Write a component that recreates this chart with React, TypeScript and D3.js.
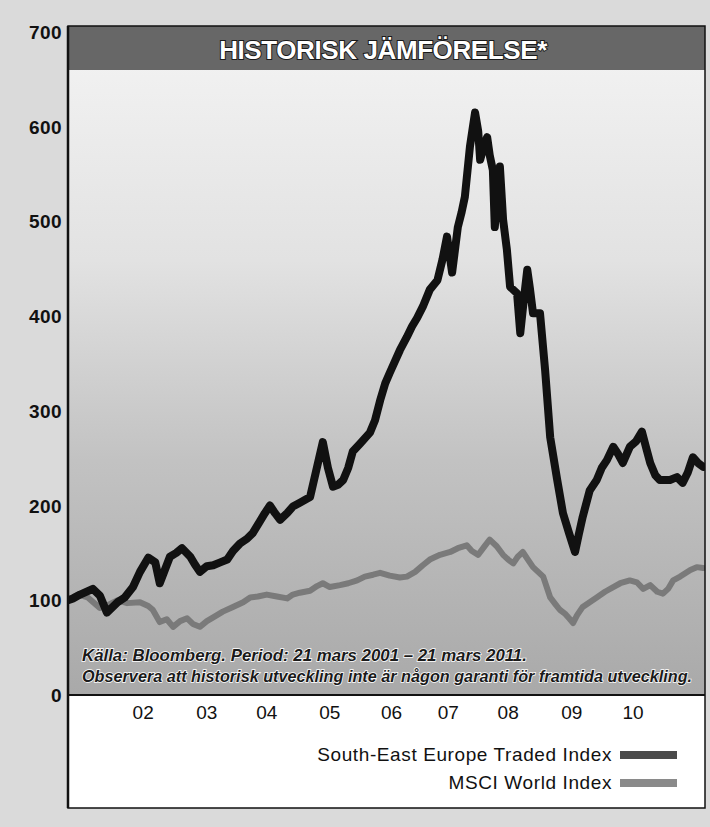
import React, { useLayoutEffect, useRef, useState } from "react";
import * as d3 from "d3";

// ---- data ----
const title = "HISTORISK JÄMFÖRELSE*";
const seriesNames = ["South-East Europe Traded Index", "MSCI World Index"];
const footnotes = [
  "Källa: Bloomberg. Period: 21 mars 2001 – 21 mars 2011.",
  "Observera att historisk utveckling inte är någon garanti för framtida utveckling.",
];
const yTicks = [0, 100, 200, 300, 400, 500, 600, 700];
const xTickLabels = ["02", "03", "04", "05", "06", "07", "08", "09", "10"];
const xTickYears = [2002.4, 2003.4, 2004.34, 2005.33, 2006.3, 2007.19, 2008.13, 2009.13, 2010.09];
const periodStart = 2001.22;
const periodEnd = 2011.22;

// South-East Europe Traded Index: [decimal year, index value]
const setx: [number, number][] = [
  [2001.22, 100], [2001.3, 102], [2001.41, 106], [2001.61, 112], [2001.72, 105],
  [2001.83, 87], [2002.0, 98], [2002.11, 103], [2002.24, 114], [2002.35, 130],
  [2002.48, 145], [2002.59, 140], [2002.66, 118], [2002.74, 132], [2002.82, 146],
  [2002.92, 150], [2003.01, 155], [2003.14, 146], [2003.21, 138], [2003.29, 130],
  [2003.4, 136], [2003.5, 137], [2003.61, 140], [2003.72, 143], [2003.81, 152],
  [2003.92, 160], [2004.03, 165], [2004.12, 171], [2004.23, 183], [2004.31, 192],
  [2004.39, 200], [2004.47, 192], [2004.55, 185], [2004.66, 192], [2004.75, 199],
  [2004.86, 203], [2005.02, 209], [2005.11, 235], [2005.22, 267], [2005.3, 240],
  [2005.38, 220], [2005.46, 222], [2005.54, 227], [2005.62, 240], [2005.69, 257],
  [2005.8, 265], [2005.96, 277], [2006.04, 290], [2006.12, 311], [2006.2, 329],
  [2006.27, 340], [2006.35, 352], [2006.43, 364], [2006.54, 378], [2006.62, 389],
  [2006.7, 398], [2006.79, 410], [2006.9, 428], [2007.02, 438], [2007.1, 460],
  [2007.17, 484], [2007.25, 446], [2007.34, 494], [2007.4, 510], [2007.45, 526],
  [2007.53, 579], [2007.61, 615], [2007.66, 595], [2007.69, 565], [2007.75, 580],
  [2007.8, 589], [2007.84, 570], [2007.89, 554], [2007.92, 494], [2008.0, 558],
  [2008.05, 502], [2008.11, 470], [2008.16, 431], [2008.27, 424], [2008.32, 382],
  [2008.38, 420], [2008.43, 449], [2008.47, 430], [2008.52, 403], [2008.63, 403],
  [2008.71, 343], [2008.79, 272], [2008.9, 227], [2008.99, 192], [2009.09, 170],
  [2009.18, 151], [2009.24, 170], [2009.3, 188], [2009.41, 216], [2009.52, 227],
  [2009.6, 240], [2009.68, 248], [2009.78, 262], [2009.85, 255], [2009.93, 245],
  [2010.04, 262], [2010.14, 268], [2010.23, 278], [2010.3, 260], [2010.36, 245],
  [2010.44, 232], [2010.51, 227], [2010.67, 227], [2010.78, 230], [2010.87, 224],
  [2010.95, 235], [2011.03, 251], [2011.11, 245], [2011.19, 241],
];

// MSCI World Index: [decimal year, index value]
const msci: [number, number][] = [
  [2001.22, 100], [2001.38, 106], [2001.53, 103], [2001.72, 92], [2001.85, 95],
  [2002.0, 100], [2002.15, 97], [2002.35, 98], [2002.48, 94], [2002.55, 90],
  [2002.66, 77], [2002.77, 80], [2002.87, 72], [2002.98, 78], [2003.09, 81],
  [2003.18, 75], [2003.29, 72], [2003.4, 78], [2003.5, 82], [2003.65, 88],
  [2003.81, 93], [2003.97, 98], [2004.08, 103], [2004.2, 104], [2004.34, 106],
  [2004.5, 104], [2004.66, 102], [2004.75, 106], [2004.86, 108], [2005.02, 110],
  [2005.13, 115], [2005.22, 118], [2005.33, 114], [2005.49, 116], [2005.62, 118],
  [2005.76, 121], [2005.88, 125], [2006.01, 127], [2006.12, 129], [2006.27, 126],
  [2006.43, 124], [2006.54, 125], [2006.67, 130], [2006.79, 137], [2006.9, 143],
  [2007.06, 148], [2007.22, 151], [2007.34, 155], [2007.48, 158], [2007.56, 152],
  [2007.66, 148], [2007.77, 158], [2007.84, 164], [2007.95, 157], [2008.05, 148],
  [2008.13, 143], [2008.21, 139], [2008.28, 146], [2008.36, 151], [2008.44, 143],
  [2008.52, 135], [2008.6, 130], [2008.68, 125], [2008.74, 113], [2008.79, 103],
  [2008.87, 96], [2008.94, 90], [2009.02, 86], [2009.1, 80], [2009.15, 76],
  [2009.21, 84], [2009.3, 93], [2009.41, 98], [2009.52, 103], [2009.65, 109],
  [2009.78, 114], [2009.89, 118], [2010.04, 121], [2010.15, 119], [2010.25, 112],
  [2010.36, 116], [2010.47, 109], [2010.56, 107], [2010.64, 112], [2010.72, 121],
  [2010.83, 125], [2010.99, 132], [2011.09, 135], [2011.19, 134],
];

const W = 710;
const H = 827;
const left = 68;
const right = 705;
const top = 26;
const bandBottom = 70;
const plotBottom = 695;
const boxBottom = 808;
const footnoteWidths = [445, 610];

export default function App() {
  const x = d3.scaleLinear().domain([periodStart, periodEnd]).range([left, right]);
  const y = d3.scaleLinear().domain([0, 700]).range([plotBottom, 32]);
  const line = d3
    .line<[number, number]>()
    .x((d) => x(d[0]))
    .y((d) => y(d[1]));

  const font = "'Liberation Sans', Arial, Helvetica, sans-serif";

  const noteRefs = useRef<(SVGTextElement | null)[]>([]);
  const [noteScales, setNoteScales] = useState<number[]>([0.75, 0.75]);
  useLayoutEffect(() => {
    const s = noteRefs.current.map((el, i) => {
      if (!el) return 0.75;
      const w = el.getComputedTextLength();
      return w > 0 ? footnoteWidths[i] / w : 0.75;
    });
    setNoteScales(s);
  }, []);

  return (
    <svg
      width={W}
      height={H}
      style={{ position: "absolute", left: 0, top: 0, display: "block" }}
      fontFamily={font}
    >
      <defs>
        <linearGradient id="plotBg" x1="0" y1="0" x2="0" y2="1">
          <stop offset="0" stopColor="#f4f4f4" />
          <stop offset="0.35" stopColor="#e2e2e2" />
          <stop offset="0.65" stopColor="#c2c2c2" />
          <stop offset="1" stopColor="#a9a9a9" />
        </linearGradient>
        <clipPath id="plotClip">
          <rect x={left} y={bandBottom} width={right - left} height={plotBottom - bandBottom} />
        </clipPath>
      </defs>

      {/* page background */}
      <rect x={0} y={0} width={W} height={H} fill="#dadada" />

      {/* plot background */}
      <rect x={left} y={top} width={right - left} height={plotBottom - top} fill="url(#plotBg)" />

      {/* title band */}
      <rect x={left} y={top} width={right - left} height={bandBottom - top} fill="#676767" />
      <text
        x={383}
        y={59}
        textAnchor="middle"
        fontSize={26}
        fontWeight="bold"
        fill="#ffffff"
        stroke="#1a1a1a"
        strokeWidth={2}
        paintOrder="stroke"
        letterSpacing={-0.4}
      >
        {title}
      </text>

      {/* series */}
      <g clipPath="url(#plotClip)">
        <path
          d={line(msci) ?? ""}
          fill="none"
          stroke="#7a7a7a"
          strokeWidth={6}
          strokeLinejoin="round"
          strokeLinecap="round"
        />
        <path
          d={line(setx) ?? ""}
          fill="none"
          stroke="#111111"
          strokeWidth={8}
          strokeLinejoin="round"
          strokeLinecap="round"
        />
      </g>

      {/* footnotes (horizontally condensed to match the narrow print face) */}
      {footnotes.map((t, i) => (
        <g key={i} transform={`translate(82, ${661 + i * 21}) scale(${noteScales[i]}, 1)`}>
          <text
            ref={(el) => {
              noteRefs.current[i] = el;
            }}
            x={0}
            y={0}
            fontSize={17}
            fontStyle="italic"
            fontWeight="bold"
            fill="#1a1a1a"
            stroke="#ffffff"
            strokeWidth={1.5}
            paintOrder="stroke"
          >
            {t}
          </text>
        </g>
      ))}

      {/* legend / x-axis box */}
      <rect x={left} y={plotBottom} width={right - left} height={boxBottom - plotBottom} fill="#ffffff" />
      <rect
        x={left}
        y={top}
        width={right - left}
        height={boxBottom - top}
        fill="none"
        stroke="#111"
        strokeWidth={1.5}
      />
      <line x1={left} x2={right} y1={plotBottom} y2={plotBottom} stroke="#111" strokeWidth={2} />
      <line x1={left} x2={left} y1={top} y2={boxBottom} stroke="#111" strokeWidth={2.5} />

      {/* x tick labels */}
      {xTickLabels.map((lab, i) => (
        <text key={lab} x={x(xTickYears[i])} y={719} textAnchor="middle" fontSize={19} fill="#111">
          {lab}
        </text>
      ))}

      {/* y tick labels */}
      {yTicks.map((v) => (
        <text
          key={v}
          x={62}
          y={y(v) + 7}
          textAnchor="end"
          fontSize={19}
          fontWeight="bold"
          fill="#111"
          letterSpacing={0.4}
        >
          {v}
        </text>
      ))}

      {/* legend */}
      {seriesNames.map((name, i) => (
        <g key={name}>
          <text
            x={612}
            y={761 + i * 28}
            textAnchor="end"
            fontSize={19}
            fill="#111"
            letterSpacing={0.6}
          >
            {name}
          </text>
          <rect
            x={620}
            y={751 + i * 28}
            width={57}
            height={8}
            fill={i === 0 ? "#4a4a4a" : "#8a8a8a"}
          />
        </g>
      ))}
    </svg>
  );
}
